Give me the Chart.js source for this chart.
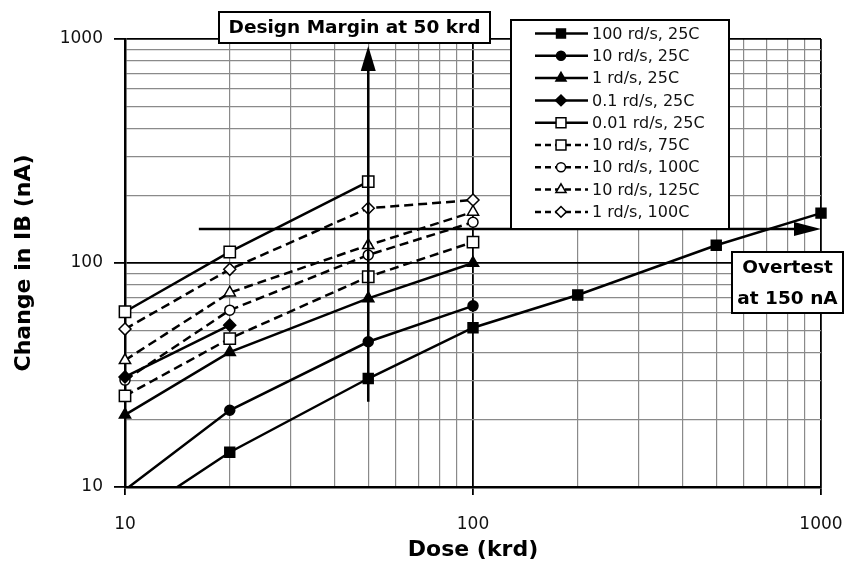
<!DOCTYPE html>
<html>
<head>
<meta charset="utf-8">
<title>Change in IB vs Dose</title>
<script src="https://cdn.jsdelivr.net/npm/chart.js@4.4.1/dist/chart.umd.min.js"></script>
<style>
  html, body { margin: 0; padding: 0; background: #fff; }
  #wrap { width: 847px; height: 563px; }
</style>
</head>
<body>
<div id="wrap"><canvas id="chart" width="847" height="563"></canvas></div>
<script>
// ── Data ─────────────────────────────────────────────────────
const doseFull  = [10, 20, 50, 100, 200, 500, 1000];
const doseTo100 = [10, 20, 50, 100];
const doseTo50  = [10, 20, 50];
const doseTo20  = [10, 20];

const ib100rd25C = [7.0, 14.3, 30.5, 51.4, 72, 120, 167];
const ib10rd25C  = [9.7, 22, 44.5, 64.4];
const ib1rd25C   = [21, 40, 69.5, 100];
const ib01rd25C  = [31, 52.8];
const ib001rd25C = [60.6, 112, 231];
const ib10rd75C  = [25.5, 46, 86.8, 124];
const ib10rd100C = [30, 61.6, 108.6, 152];
const ib10rd125C = [36.8, 73.7, 120, 169];
const ib1rd100C  = [50.7, 93.7, 175.6, 191];

const seriesLabels = [
  '100 rd/s, 25C', '10 rd/s, 25C', '1 rd/s, 25C', '0.1 rd/s, 25C', '0.01 rd/s, 25C',
  '10 rd/s, 75C', '10 rd/s, 100C', '10 rd/s, 125C', '1 rd/s, 100C'
];

// log grid lines and the labelled decades
const gridValues = [10, 20, 30, 40, 50, 60, 70, 80, 90,
                    100, 200, 300, 400, 500, 600, 700, 800, 900, 1000];
const tickLabels = ['10', '100', '1000'];

// annotations
const marginDose     = 50;          // design margin arrow (krd)
const marginIBRange  = [24, 930];   // arrow runs from .. to tip (nA)
const overtestIB     = 142;         // overtest arrow (nA)
const overtestDose   = [16.3, 1000];

// ── Styling helpers ──────────────────────────────────────────
const FONT = "'DejaVu Sans', Verdana, sans-serif";
Chart.defaults.font.family = FONT;
Chart.defaults.color = '#111';

const RADIUS = { rect: 7, circle: 5, triangle: 6.5, rectRot: 6 };
const isDecade = v => [10, 100, 1000].includes(v);

function series(label, doses, values, style, filled, dashed) {
  const r = style === 'rect' && !filled ? 8 : RADIUS[style];
  return {
    label,
    data: doses.map((d, i) => ({ x: d, y: values[i] })),
    borderColor: '#000',
    borderWidth: 2.5,
    borderDash: dashed ? [9, 5] : [],
    pointStyle: style,
    pointRadius: ctx => (ctx.raw && ctx.raw.y < 10 ? 0 : r),
    pointBackgroundColor: filled ? '#000' : '#fff',
    pointBorderColor: '#000',
    pointBorderWidth: 1.5,
    tension: 0,
    clip: { left: 12, top: 12, right: 12, bottom: 0 },
    _filled: filled, _dashed: dashed
  };
}

const datasets = [
  series(seriesLabels[0], doseFull,  ib100rd25C, 'rect',     true,  false),
  series(seriesLabels[1], doseTo100, ib10rd25C,  'circle',   true,  false),
  series(seriesLabels[2], doseTo100, ib1rd25C,   'triangle', true,  false),
  series(seriesLabels[3], doseTo20,  ib01rd25C,  'rectRot',  true,  false),
  series(seriesLabels[4], doseTo50,  ib001rd25C, 'rect',     false, false),
  series(seriesLabels[5], doseTo100, ib10rd75C,  'rect',     false, true),
  series(seriesLabels[6], doseTo100, ib10rd100C, 'circle',   false, true),
  series(seriesLabels[7], doseTo100, ib10rd125C, 'triangle', false, true),
  series(seriesLabels[8], doseTo100, ib1rd100C,  'rectRot',  false, true)
];

// ── Marker drawing for the legend ────────────────────────────
function drawMarker(ctx, style, x, y, r, filled) {
  ctx.beginPath();
  if (style === 'rect') {
    const s = r * Math.SQRT1_2;
    ctx.rect(x - s, y - s, 2 * s, 2 * s);
  } else if (style === 'circle') {
    ctx.arc(x, y, r, 0, Math.PI * 2);
  } else if (style === 'triangle') {
    for (let k = 0; k < 3; k++) {
      const a = k * 2 * Math.PI / 3;
      const px = x + Math.sin(a) * r, py = y - Math.cos(a) * r;
      k ? ctx.lineTo(px, py) : ctx.moveTo(px, py);
    }
    ctx.closePath();
  } else {
    ctx.moveTo(x - r, y); ctx.lineTo(x, y - r);
    ctx.lineTo(x + r, y); ctx.lineTo(x, y + r);
    ctx.closePath();
  }
  ctx.setLineDash([]);
  ctx.fillStyle = filled ? '#000' : '#fff';
  ctx.fill();
  ctx.lineWidth = 1.5;
  ctx.strokeStyle = '#000';
  ctx.stroke();
}

function textBox(ctx, x1, y1, x2, y2, lines, size) {
  ctx.save();
  ctx.fillStyle = '#fff';
  ctx.fillRect(x1, y1, x2 - x1, y2 - y1);
  ctx.lineWidth = 2;
  ctx.strokeStyle = '#000';
  ctx.setLineDash([]);
  ctx.strokeRect(x1, y1, x2 - x1, y2 - y1);
  ctx.fillStyle = '#000';
  ctx.font = `bold ${size}px ${FONT}`;
  ctx.textAlign = 'center';
  ctx.textBaseline = 'middle';
  const lh = (y2 - y1) / lines.length;
  lines.forEach((t, i) => ctx.fillText(t, (x1 + x2) / 2, y1 + lh * (i + 0.5) + 1));
  ctx.restore();
}

// ── Annotations + legend plugin ──────────────────────────────
const overlay = {
  id: 'overlay',
  afterDatasetsDraw(chart) {
    const { ctx, scales: { x, y } } = chart;
    ctx.save();
    ctx.strokeStyle = '#000';
    ctx.fillStyle = '#000';
    ctx.lineWidth = 2.5;
    ctx.setLineDash([]);

    // vertical design-margin arrow
    const vx = x.getPixelForValue(marginDose);
    const vy0 = y.getPixelForValue(marginIBRange[0]);
    const vy1 = y.getPixelForValue(marginIBRange[1]);
    ctx.beginPath(); ctx.moveTo(vx, vy0); ctx.lineTo(vx, vy1 + 20); ctx.stroke();
    ctx.beginPath();
    ctx.moveTo(vx, vy1); ctx.lineTo(vx - 7.5, vy1 + 25); ctx.lineTo(vx + 7.5, vy1 + 25);
    ctx.closePath(); ctx.fill();

    // horizontal overtest arrow
    const hy = y.getPixelForValue(overtestIB);
    const hx0 = x.getPixelForValue(overtestDose[0]);
    const hx1 = x.getPixelForValue(overtestDose[1]);
    ctx.beginPath(); ctx.moveTo(hx0, hy); ctx.lineTo(hx1 - 22, hy); ctx.stroke();
    ctx.beginPath();
    ctx.moveTo(hx1, hy); ctx.lineTo(hx1 - 27, hy - 7); ctx.lineTo(hx1 - 27, hy + 7);
    ctx.closePath(); ctx.fill();
    ctx.restore();

    // text boxes
    textBox(ctx, 219, 12, 490, 43, ['Design Margin at 50 krd'], 18.5);
    textBox(ctx, 732, 252, 843, 313, ['Overtest', 'at 150 nA'], 18.5);

    // legend
    ctx.save();
    ctx.fillStyle = '#fff';
    ctx.fillRect(511, 20, 218, 209);
    ctx.lineWidth = 2;
    ctx.strokeStyle = '#000';
    ctx.strokeRect(511, 20, 218, 209);
    ctx.font = `16px ${FONT}`;
    ctx.textBaseline = 'middle';
    chart.data.datasets.forEach((ds, i) => {
      const ry = 33.5 + i * 22.3;
      ctx.beginPath();
      ctx.lineWidth = 2.5;
      ctx.strokeStyle = '#000';
      ctx.setLineDash(ds._dashed ? [6, 4] : []);
      ctx.moveTo(535, ry); ctx.lineTo(588, ry);
      ctx.stroke();
      const r = ds.pointStyle === 'rect' && !ds._filled ? 7 : RADIUS[ds.pointStyle] * 0.9;
      drawMarker(ctx, ds.pointStyle, 561, ry, r, ds._filled);
      ctx.fillStyle = '#111';
      ctx.fillText(ds.label, 592, ry + 1);
    });
    ctx.restore();
  }
};

// ── Axes ─────────────────────────────────────────────────────
function logAxis(axisTitle, extra) {
  return Object.assign({
    type: 'logarithmic',
    min: 10,
    max: 1000,
    afterBuildTicks: scale => {
      scale.ticks = gridValues.map(v => ({ value: v, major: isDecade(v) }));
    },
    ticks: {
      autoSkip: false,
      maxRotation: 0,
      font: { size: 17 },
      color: '#111',
      callback: v => (tickLabels.includes(String(v)) ? String(v) : '')
    },
    grid: {
      color: ctx => (ctx.tick && isDecade(ctx.tick.value) ? '#000' : '#8a8a8a'),
      lineWidth: ctx => (ctx.tick && isDecade(ctx.tick.value) ? 1.8 : 1.2),
      tickColor: ctx => (ctx.tick && isDecade(ctx.tick.value) ? '#000' : 'rgba(0,0,0,0)')
    },
    border: { color: '#000', width: 2.5 },
    title: { display: true, text: axisTitle, font: { size: 22, weight: 'bold' }, color: '#000' }
  }, extra);
}

const xScale = logAxis('Dose (krd)', {
  afterFit: s => { s.height = 76; s.paddingLeft = 0; s.paddingRight = 0; }
});
xScale.ticks.padding = 19;
xScale.grid.tickLength = 8;
xScale.title.padding = { top: 0, bottom: 0 };

const yScale = logAxis('Change in IB (nA)', {
  afterFit: s => { s.width = 125; s.paddingTop = 0; s.paddingBottom = 0; }
});
yScale.ticks.padding = 11;
yScale.grid.tickLength = 11;
yScale.title.padding = { top: 11, bottom: 0 };

new Chart(document.getElementById('chart'), {
  type: 'line',
  data: { datasets },
  options: {
    responsive: false,
    animation: false,
    events: [],
    layout: { padding: { left: 0, top: 39, right: 26, bottom: 0 } },
    plugins: { legend: { display: false }, tooltip: { enabled: false } },
    scales: { x: xScale, y: yScale }
  },
  plugins: [overlay]
});
</script>
</body>
</html>
